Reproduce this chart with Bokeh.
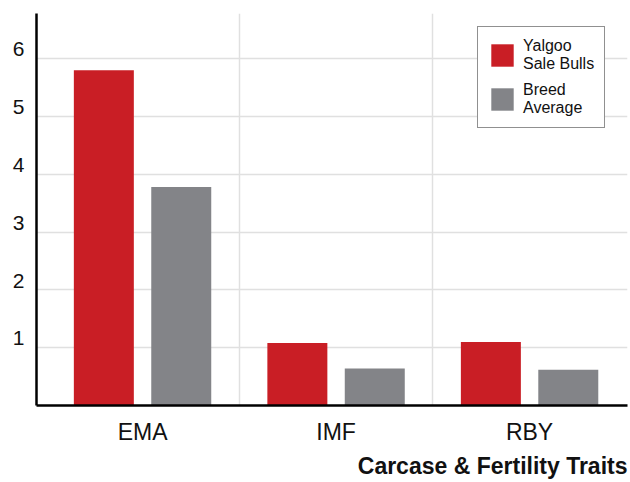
import numpy as np
from bokeh.plotting import figure
from bokeh.models import (Range1d, FixedTicker, CustomJSTickFormatter, Legend,
                          LegendItem, Title, ColumnDataSource)
from bokeh.embed import file_html
from bokeh.resources import INLINE

# ---- data ----
categories = ["EMA", "IMF", "RBY"]
yalgoo_sale_bulls = [5.8, 1.08, 1.1]
breed_average = [3.78, 0.64, 0.62]
series_labels = ["Yalgoo\nSale Bulls", "Breed\nAverage"]
y_ticks = [1, 2, 3, 4, 5, 6]
x_title = "Carcase & Fertility Traits"

# ---- style ----
RED = "#C91E25"
GRAY = "#838488"
FONT = "Liberation Sans"
GRID = "#e0e0e0"
Y_MAX = 6.78
OFFSET = 0.2
BAR_W = 0.31
LABEL_SHIFT = 0.16

idx = np.arange(len(categories))
src = ColumnDataSource(dict(
    x_red=idx - OFFSET, x_gray=idx + OFFSET,
    red=yalgoo_sale_bulls, gray=breed_average))

p = figure(width=630, height=482, output_backend="svg", toolbar_location=None,
           x_range=Range1d(-0.548, len(categories) - 0.494),
           y_range=Range1d(0, Y_MAX),
           min_border_left=36, min_border_top=13, min_border_right=3,
           min_border_bottom=0,
           background_fill_color="white", border_fill_color="white")
p.outline_line_color = None

r_red = p.vbar(x="x_red", top="red", width=BAR_W, source=src,
               fill_color=RED, line_color=None)
r_gray = p.vbar(x="x_gray", top="gray", width=BAR_W, source=src,
                fill_color=GRAY, line_color=None)

# y axis
ya = p.yaxis[0]
ya.ticker = FixedTicker(ticks=[t + LABEL_SHIFT for t in y_ticks])
ya.formatter = CustomJSTickFormatter(code="return Math.floor(tick).toString()")
ya.major_tick_line_color = None
ya.major_tick_out = 0
ya.major_tick_in = 0
ya.minor_tick_line_color = None
ya.axis_line_color = "black"
ya.axis_line_width = 2.5
ya.major_label_standoff = 12
ya.major_label_text_font = FONT
ya.major_label_text_font_size = "21px"
ya.major_label_text_color = "#111111"

# x axis
xa = p.xaxis[0]
xa.ticker = FixedTicker(ticks=[float(i) for i in idx])
xa.major_label_overrides = {float(i): c for i, c in enumerate(categories)}
xa.major_tick_line_color = None
xa.minor_tick_line_color = None
xa.axis_line_color = "black"
xa.axis_line_width = 2.5
xa.major_label_standoff = 7
xa.major_label_text_font = FONT
xa.major_label_text_font_size = "23px"
xa.major_label_text_color = "#111111"

# grids
p.ygrid.ticker = FixedTicker(ticks=list(y_ticks) + [Y_MAX])
p.ygrid.grid_line_color = GRID
p.ygrid.grid_line_width = 1.5
p.xgrid.ticker = FixedTicker(ticks=[i + 0.5 for i in idx[:-1]])
p.xgrid.grid_line_color = GRID
p.xgrid.grid_line_width = 1.5

# title below
p.add_layout(Title(text=x_title, align="right", text_font=FONT,
                   text_font_size="23px", text_font_style="bold",
                   text_color="#111111", standoff=7), "below")

# legend
legend = Legend(items=[LegendItem(label=series_labels[0], renderers=[r_red]),
                       LegendItem(label=series_labels[1], renderers=[r_gray])],
                location=(441, 277))
legend.border_line_color = "#222222"
legend.border_line_width = 1
legend.background_fill_color = "white"
legend.background_fill_alpha = 1
legend.padding = 10
legend.spacing = 8
legend.margin = 0
legend.glyph_width = 28
legend.glyph_height = 28
legend.label_standoff = 7
legend.label_text_font = FONT
legend.label_text_font_size = "16px"
legend.label_text_line_height = 0.92
legend.label_text_color = "#111111"
p.add_layout(legend, "center")

open("out.html", "w").write(file_html(p, INLINE))
